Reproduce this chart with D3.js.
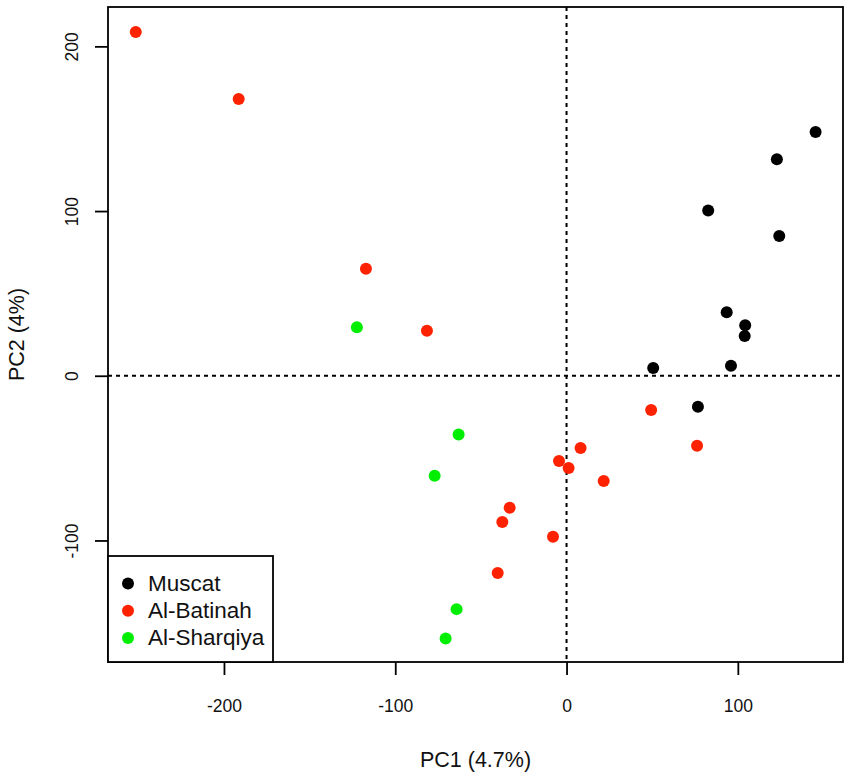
<!DOCTYPE html>
<html>
<head>
<meta charset="utf-8">
<script src="https://cdn.jsdelivr.net/npm/d3@7"></script>
<style>
    body { margin: 0; background: #fff; }
    svg text { font-family: "Liberation Sans", Arial, sans-serif; fill: #111; }
</style>
</head>
<body>
<div id="chart"></div>
<script>
// PCA scores, one pair of arrays per region
const groups = ["Muscat", "Al-Batinah", "Al-Sharqiya"];
const colors = ["#000000", "#ff2200", "#00ee00"];

const muscatPC1 = [145.4, 122.8, 82.7, 124.2, 93.5, 104.3, 104.0, 96.0, 50.6, 76.7];
const muscatPC2 = [148.0, 131.4, 100.4, 84.8, 38.5, 30.6, 24.1, 6.1, 4.7, -18.8];

const batinahPC1 = [-251.5, -191.4, -117.1, -81.5, 49.4, 76.2, 8.2, -4.4, 1.2, 21.7, -33.2, -37.5, -7.9, -40.2];
const batinahPC2 = [208.7, 168.0, 65.0, 27.3, -20.8, -42.5, -43.9, -51.8, -56.0, -63.9, -80.1, -88.8, -97.7, -119.8];

const sharqiyaPC1 = [-122.4, -63.0, -77.0, -64.2, -70.6];
const sharqiyaPC2 = [29.4, -35.6, -60.7, -141.7, -159.5];

const xTicks = [-200, -100, 0, 100];
const yTicks = [-100, 0, 100, 200];

const width = 851;
const height = 776;
const margin = {top: 7, left: 108, right: 8, bottom: 114};

const svg = d3.select("#chart")
    .append("svg")
    .attr("width", width)
    .attr("height", height);

const xScale = d3.scaleLinear()
    .domain([-267.7, 161.4])
    .range([margin.left, width - margin.right]);

const yScale = d3.scaleLinear()
    .domain([-173.8, 223.9])
    .range([height - margin.bottom, margin.top]);

// flatten into rows for the data join
const points = [];
[[muscatPC1, muscatPC2], [batinahPC1, batinahPC2], [sharqiyaPC1, sharqiyaPC2]].forEach(function(pair, g) {
    pair[0].forEach(function(v, i) {
        points.push({group: groups[g], pc1: v, pc2: pair[1][i]});
    });
});

const colorScale = d3.scaleOrdinal().domain(groups).range(colors);

// zero lines
svg.append("line")
    .attr("x1", xScale(0)).attr("x2", xScale(0))
    .attr("y1", margin.top).attr("y2", height - margin.bottom)
    .attr("stroke", "#000").attr("stroke-width", 2)
    .attr("stroke-dasharray", "4,4");

svg.append("line")
    .attr("x1", margin.left).attr("x2", width - margin.right)
    .attr("y1", yScale(0)).attr("y2", yScale(0))
    .attr("stroke", "#000").attr("stroke-width", 2)
    .attr("stroke-dasharray", "4,4");

// points
svg.selectAll("circle.pt")
    .data(points)
    .enter()
    .append("circle")
        .attr("class", "pt")
        .attr("cx", function(d) { return xScale(d.pc1); })
        .attr("cy", function(d) { return yScale(d.pc2); })
        .attr("r", 6)
        .attr("fill", function(d) { return colorScale(d.group); });

// axes (plain hyphen for negatives, like R)
const fmt = function(d) { return String(d); };

const xAxis = svg.append("g")
    .attr("transform", `translate(0,${height - margin.bottom})`)
    .call(d3.axisBottom(xScale).tickValues(xTicks).tickFormat(fmt).tickSize(13).tickSizeOuter(0));
xAxis.select(".domain").remove();
xAxis.selectAll("line").attr("stroke", "#000").attr("stroke-width", 1.8);
xAxis.selectAll("text")
    .attr("y", 49.5).attr("dy", 0)
    .style("font-size", "17.5px");

const yAxis = svg.append("g")
    .attr("transform", `translate(${margin.left},0)`)
    .call(d3.axisLeft(yScale).tickValues(yTicks).tickFormat(fmt).tickSize(13).tickSizeOuter(0));
yAxis.select(".domain").remove();
yAxis.selectAll("line").attr("stroke", "#000").attr("stroke-width", 1.8);
yAxis.selectAll("text")
    .attr("x", 0).attr("y", 0).attr("dy", 0)
    .attr("text-anchor", "middle")
    .attr("transform", "translate(-30.5,0) rotate(-90)")
    .style("font-size", "17.5px");

// frame
svg.append("rect")
    .attr("x", margin.left).attr("y", margin.top)
    .attr("width", width - margin.left - margin.right)
    .attr("height", height - margin.top - margin.bottom)
    .attr("fill", "none").attr("stroke", "#000").attr("stroke-width", 1.8);

// axis labels
svg.append("text")
    .attr("x", (margin.left + width - margin.right) / 2)
    .attr("y", 767)
    .attr("text-anchor", "middle")
    .style("font-size", "21.5px")
    .text("PC1 (4.7%)");

svg.append("text")
    .attr("transform", "rotate(-90)")
    .attr("x", -(margin.top + height - margin.bottom) / 2)
    .attr("y", 24)
    .attr("text-anchor", "middle")
    .style("font-size", "21.5px")
    .text("PC2 (4%)");

// legend
const legend = svg.append("g");
legend.append("rect")
    .attr("x", margin.left).attr("y", 556)
    .attr("width", 165).attr("height", height - margin.bottom - 556)
    .attr("fill", "#fff").attr("stroke", "#000").attr("stroke-width", 1.8);

const items = legend.selectAll("g.item")
    .data(groups)
    .enter()
    .append("g")
        .attr("class", "item")
        .attr("transform", function(d, i) { return `translate(128,${583.5 + i * 27.2})`; });

items.append("circle")
    .attr("r", 6)
    .attr("fill", function(d) { return colorScale(d); });

items.append("text")
    .attr("x", 20)
    .attr("y", 7.5)
    .style("font-size", "22.5px")
    .text(function(d) { return d; });
</script>
</body>
</html>
